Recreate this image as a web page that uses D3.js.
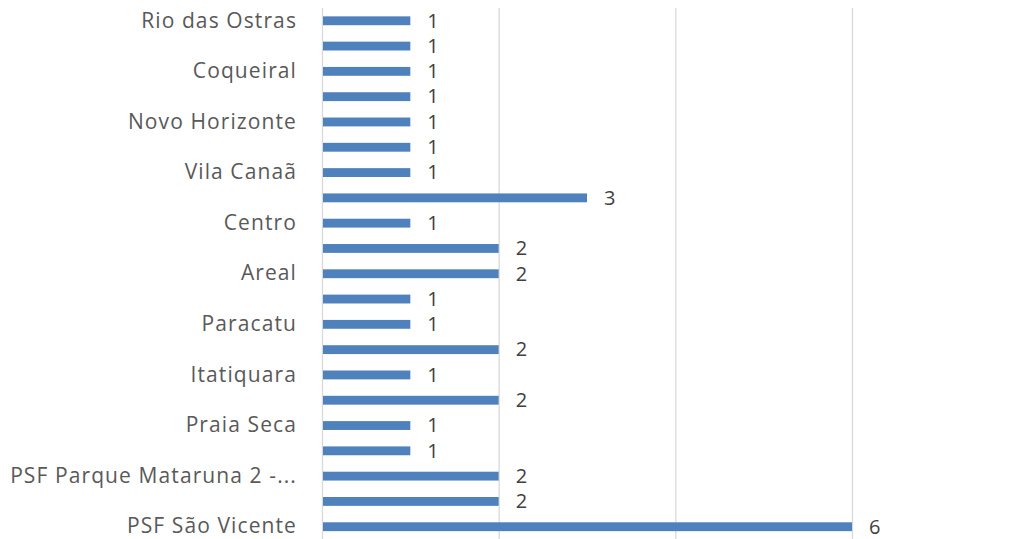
<!DOCTYPE html>
<html>
<head>
<meta charset="utf-8">
<script src="https://cdn.jsdelivr.net/npm/d3@7"></script>
<style>
  body { margin: 0; background: #fff; }
  svg { display: block; }
</style>
</head>
<body>
<div id="chart"></div>
<script>
// categories top to bottom; blank ones are hidden by the axis in the original
const categories = [
    'Rio das Ostras', '', 'Coqueiral', '', 'Novo Horizonte', '', 'Vila Canaã',
    '', 'Centro', '', 'Areal', '', 'Paracatu', '', 'Itatiquara ', '',
    'Praia Seca', '', 'PSF Parque Mataruna 2 -...', '', 'PSF São Vicente'
]
const values = [1, 1, 1, 1, 1, 1, 1, 3, 1, 2, 2, 1, 1, 2, 1, 2, 1, 1, 2, 2, 6]
const xTicks = [0, 2, 4, 6]

const width = 1027
const height = 539
const margin = {top: 8, right: 175, bottom: 0, left: 322}
const fontFamily = '"Open Sans", sans-serif'

const svg = d3.select('#chart')
    .append('svg')
    .attr('width', width)
    .attr('height', height)

const x = d3.scaleLinear()
    .domain([0, 6])
    .range([margin.left, width - margin.right])

const y = d3.scaleBand()
    .domain(d3.range(categories.length))
    .range([margin.top, height - margin.bottom + 0.5])
    .paddingInner(0.65)
    .paddingOuter(0.33)

// gridlines
svg.append('g')
    .selectAll('line')
    .data(xTicks)
    .join('line')
    .attr('x1', d => x(d) + 0.5)
    .attr('x2', d => x(d) + 0.5)
    .attr('y1', margin.top)
    .attr('y2', height)
    .attr('stroke', '#d9d9d9')
    .attr('stroke-width', 1.3)

// bars
svg.append('g')
    .selectAll('rect')
    .data(values)
    .join('rect')
    .attr('x', x(0) + 1)
    .attr('y', (d, i) => y(i))
    .attr('width', d => x(d) - x(0) - 1)
    .attr('height', y.bandwidth())
    .attr('fill', '#4f81bd')

// value labels
svg.append('g')
    .selectAll('text')
    .data(values)
    .join('text')
    .attr('x', d => x(d) + 17)
    .attr('y', (d, i) => y(i) + y.bandwidth() / 2)
    .attr('dy', '0.34em')
    .attr('font-family', fontFamily)
    .attr('font-size', 20)
    .attr('fill', '#404040')
    .text(d => d)

// category axis
const yAxis = d3.axisLeft(y)
    .tickSize(0)
    .tickPadding(25)
    .tickFormat(i => categories[i])

svg.append('g')
    .attr('transform', `translate(${margin.left},0)`)
    .call(yAxis)
    .call(g => g.select('.domain').remove())
    .call(g => g.selectAll('text')
        .attr('font-family', fontFamily)
        .attr('font-size', 21)
        .attr('letter-spacing', 1.1)
        .attr('fill', '#595959'))
</script>
</body>
</html>
